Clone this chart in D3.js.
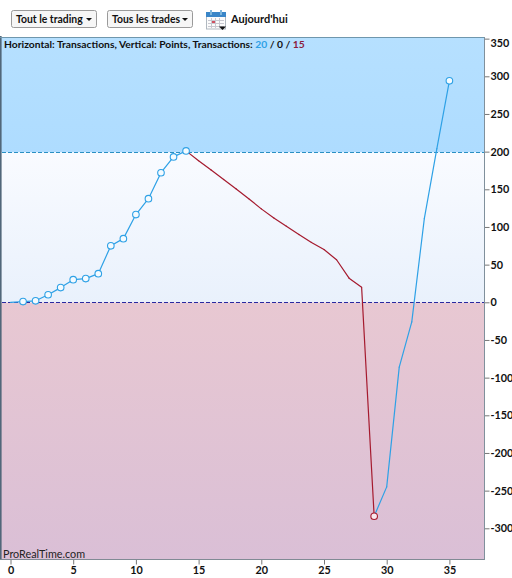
<!DOCTYPE html>
<html><head><meta charset="utf-8">
<script src="https://cdn.jsdelivr.net/npm/d3@7"></script>
<style>
html,body{margin:0;padding:0;background:#fff;overflow:hidden}
svg{display:block}
text{font-family:Lato,"Open Sans","DejaVu Sans",sans-serif;fill:#111}
.tick text{font-size:10.8px;font-weight:700;font-family:Lato,sans-serif}
</style></head><body><div id="c"></div>
<script>
const tradeNumbers = [0,1,2,3,4,5,6,7,8,9,10,11,12,13,14,15,16,17,18,19,20,21,22,23,24,25,26,27,28,29,30,31,32,33,34,35];
const points = [0,1,2,10,19.5,30,31.5,38,75,84.5,116.5,137.5,172,193,201,188,175.5,163,150.5,137.5,124,112,101,90,79.5,70,56.5,32,20,-284,-245,-86,-26,111,204,294];
const markedTrades = [1,2,3,4,5,6,7,8,9,10,11,12,13,14,29,35];
const xTicks = [0,5,10,15,20,25,30,35];
const yTicks = [350,300,250,200,150,100,50,0,-50,-100,-150,-200,-250,-300];
const referenceLevels = [200,0];
const buttonLabels = ["Tout le trading","Tous les trades"];
const headerParts = ["Horizontal: Transactions, Vertical: Points, Transactions: ","20"," / 0 / ","15"];

const W=512,H=578,L=0,R=484,T=37,B=559;
const x=d3.scaleLinear().domain([0,35]).range([10.5,449.4]);
const y=d3.scaleLinear().domain([0,300]).range([302.3,76.3]);
const svg=d3.select("#c").append("svg").attr("width",W).attr("height",H);
const defs=svg.append("defs");
function grad(id,a,b){const g=defs.append("linearGradient").attr("id",id).attr("x1",0).attr("x2",0).attr("y1",0).attr("y2",1);
 g.append("stop").attr("offset",0).attr("stop-color",a);g.append("stop").attr("offset",1).attr("stop-color",b);}
grad("gTop","#b6e0ff","#aedcff");grad("gMid","#f9fbff","#e9f1fc");grad("gLow","#e8c8d2","#dabfd6");
const y200=Math.round(y(200))+.5,y0=Math.round(y(0))+.5;
svg.append("rect").attr("x",L).attr("y",T).attr("width",R-L).attr("height",y200-T).attr("fill","url(#gTop)");
svg.append("rect").attr("x",L).attr("y",y200).attr("width",R-L).attr("height",y0-y200).attr("fill","url(#gMid)");
svg.append("rect").attr("x",L).attr("y",y0).attr("width",R-L).attr("height",B-y0).attr("fill","url(#gLow)");

// frame
svg.append("rect").attr("x",0).attr("y",T-1).attr("width",1.6).attr("height",B-T+1).attr("fill","#51677a");
svg.append("line").attr("x1",0).attr("x2",R).attr("y1",T+.5).attr("y2",T+.5).attr("stroke","#6f97ad");

// reference levels
svg.selectAll(".lvl").data(referenceLevels).join("line").attr("class","lvl")
 .attr("x1",2).attr("x2",R).attr("y1",d=>Math.round(y(d))+.5).attr("y2",d=>Math.round(y(d))+.5)
 .attr("stroke",d=>d===0?"#2a2aa0":"#2a90c4").attr("stroke-width",1).attr("stroke-dasharray","4 2");

// axes
const ax=svg.append("g").attr("transform",`translate(0,${B+.5})`)
 .call(d3.axisBottom(x).tickValues(xTicks).tickSize(5).tickPadding(2).tickFormat(d3.format("d")));
const ay=svg.append("g").attr("transform",`translate(${R+.5},0)`)
 .call(d3.axisRight(y).tickValues(yTicks).tickSize(5).tickPadding(1).tickFormat(d=>String(d)));
[ax,ay].forEach(g=>{g.selectAll(".tick line").attr("stroke","#777");g.select(".domain").remove();});
ay.selectAll(".tick text").filter(d=>d===350).attr("dy","0.72em");
svg.append("line").attr("x1",0).attr("x2",R+1).attr("y1",B+.5).attr("y2",B+.5).attr("stroke","#808a94");
svg.append("line").attr("x1",R+.5).attr("x2",R+.5).attr("y1",T).attr("y2",B+1).attr("stroke","#80909c");

// equity line, segment colour follows direction
const rows=tradeNumbers.map((t,i)=>({t,v:points[i]}));
const up="#2ea1e6",down="#a51a2e";
svg.selectAll(".seg").data(rows.slice(1).map((d,i)=>[rows[i],d])).join("line").attr("class","seg")
 .attr("x1",d=>x(d[0].t)).attr("y1",d=>y(d[0].v)).attr("x2",d=>x(d[1].t)).attr("y2",d=>y(d[1].v))
 .attr("stroke",d=>d[1].v>=d[0].v?up:down).attr("stroke-width",1.2).attr("stroke-linecap","round");
svg.selectAll(".mk").data(rows.filter(d=>markedTrades.includes(d.t))).join("circle").attr("class","mk")
 .attr("cx",d=>x(d.t)).attr("cy",d=>y(d.v)).attr("r",3.3)
 .attr("fill",d=>d.v<0?"#f8e8ee":"#f4fbff").attr("stroke",d=>d.v<0?down:up).attr("stroke-width",1.1);

// header text
const ht=svg.append("text").attr("x",4).attr("y",47.5).attr("font-size",10.3).attr("font-weight",700);
const hc=["#111","#2ea1e6","#111","#8c1c3e"];
headerParts.forEach((s,i)=>ht.append("tspan").text(s).style("fill",hc[i]));
svg.append("text").attr("x",3).attr("y",558).attr("font-size",10.8).text("ProRealTime.com").style("fill","#222");

// toolbar
const bx=[11,107],bw=[85,85];
buttonLabels.forEach((s,i)=>{
 const g=svg.append("g").attr("transform",`translate(${bx[i]},10)`);
 g.append("rect").attr("x",.5).attr("y",.5).attr("width",bw[i]).attr("height",17).attr("rx",2).attr("fill","#f6f6f6").attr("stroke","#9a9a9a");
 g.append("text").attr("x",5).attr("y",12.8).attr("font-size",10.4).attr("font-weight",700).text(s);
 g.append("path").attr("d",`M${bw[i]-10},8 h6 l-3,3 z`).attr("fill","#111");
});
const c=svg.append("g").attr("transform","translate(206,10)");
c.append("rect").attr("x",.5).attr("y",3.5).attr("width",19).attr("height",15.5).attr("fill","#fbfbfb").attr("stroke","#b0b8c0");
c.append("rect").attr("x",0).attr("y",2).attr("width",20).attr("height",5).attr("fill","#3a86c8");
[4,14].forEach(px=>c.append("rect").attr("x",px).attr("y",0).attr("width",2).attr("height",5).attr("fill","#7fb6dc"));
[5,9,13].forEach(px=>c.append("line").attr("x1",px+.5).attr("x2",px+.5).attr("y1",8).attr("y2",18).attr("stroke","#c8c8d0"));
[10,13,16].forEach(py=>c.append("line").attr("x1",2).attr("x2",18).attr("y1",py+.5).attr("y2",py+.5).attr("stroke","#c8c8d0"));
c.append("rect").attr("x",6).attr("y",11).attr("width",3).attr("height",2).attr("fill","#d05060");
c.append("path").attr("d","M13,16.5 h7 l-3.5,3.5 z").attr("fill","#111");
svg.append("text").attr("x",231).attr("y",22.5).attr("font-size",11).attr("font-weight",700).text("Aujourd'hui");
</script></body></html>
